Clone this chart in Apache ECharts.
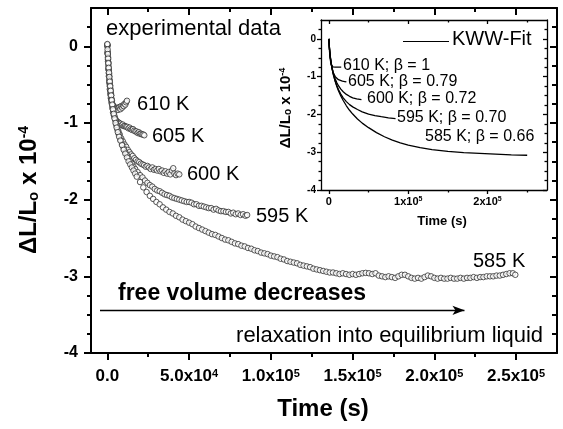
<!DOCTYPE html>
<html><head><meta charset="utf-8">
<script src="https://cdn.jsdelivr.net/npm/echarts@6/dist/echarts.min.js"></script>
<style>html,body{margin:0;padding:0;background:#fff}#c{width:563px;height:429px}</style>
</head><body><div id="c"></div>
<script>
// ---- measured data: [time (10^3 s), dL/Lo (10^-4)] ----
const d610 = [[0,0.02],[0.2,-0.1],[0.4,-0.2],[0.65,-0.3],[0.9,-0.39],[1.2,-0.48],[1.5,-0.56],[1.85,-0.63],[2.2,-0.68],[2.6,-0.72],[3.0,-0.75],[3.5,-0.78],[4.0,-0.79],[4.5,-0.8],[5.0,-0.82],[5.5,-0.8],[6.0,-0.81],[6.5,-0.83],[7.0,-0.8],[7.5,-0.79],[8.0,-0.82],[8.5,-0.78],[9.0,-0.8],[9.5,-0.77],[10.0,-0.78],[10.5,-0.75],[11.0,-0.76],[11.5,-0.73],[12.0,-0.71]];
const d605 = [[0,0],[0.2,-0.09],[0.4,-0.17],[0.65,-0.26],[0.9,-0.35],[1.2,-0.44],[1.5,-0.52],[1.85,-0.6],[2.2,-0.67],[2.6,-0.74],[3.0,-0.8],[3.5,-0.86],[4.0,-0.9],[4.6,-0.93],[5.2,-0.96],[5.9,-0.98],[6.6,-0.99],[7.3,-1.0],[8.0,-1.01],[8.7,-1.03],[9.4,-1.02],[10.1,-1.04],[10.8,-1.04],[11.5,-1.05],[12.2,-1.05],[12.9,-1.07],[13.6,-1.06],[14.3,-1.08],[15.0,-1.09],[15.7,-1.08],[16.4,-1.1],[17.1,-1.11],[17.8,-1.11],[18.5,-1.13],[19.2,-1.12],[19.9,-1.14],[20.6,-1.14],[21.3,-1.15],[22.0,-1.15],[22.6,-1.16]];
const d600 = [[0,0.01],[0.2,-0.08],[0.4,-0.15],[0.65,-0.23],[0.9,-0.31],[1.2,-0.39],[1.5,-0.47],[1.85,-0.55],[2.2,-0.62],[2.6,-0.69],[3.0,-0.75],[3.5,-0.82],[4.0,-0.88],[4.6,-0.94],[5.3,-1.0],[6.0,-1.06],[6.8,-1.11],[7.6,-1.15],[8.5,-1.2],[9.5,-1.24],[10.5,-1.28],[11.5,-1.31],[12.5,-1.35],[13.5,-1.38],[14.5,-1.41],[15.5,-1.43],[16.5,-1.46],[17.5,-1.48],[18.5,-1.5],[19.5,-1.51],[20.5,-1.53],[21.5,-1.54],[22.5,-1.55],[23.5,-1.57],[24.5,-1.56],[25.5,-1.58],[26.5,-1.6],[27.5,-1.58],[28.5,-1.61],[29.5,-1.6],[30.5,-1.62],[31.5,-1.6],[32.5,-1.63],[33.5,-1.62],[34.5,-1.65],[35.5,-1.63],[36.5,-1.66],[37.5,-1.64],[38.5,-1.67],[39.5,-1.62],[40.3,-1.59],[41.0,-1.66],[42.0,-1.68],[43.0,-1.66],[44.0,-1.67]];
const d595 = [[0,0.02],[0.2,-0.07],[0.4,-0.14],[0.6,-0.21],[0.85,-0.29],[1.1,-0.36],[1.4,-0.44],[1.7,-0.51],[2.05,-0.58],[2.4,-0.64],[2.8,-0.71],[3.2,-0.77],[3.7,-0.84],[4.2,-0.9],[4.8,-0.96],[5.5,-1.03],[6.2,-1.09],[7.0,-1.15],[8.0,-1.22],[9.0,-1.28],[10.0,-1.33],[11.0,-1.38],[12.0,-1.42],[13.0,-1.46],[14.0,-1.5],[15.0,-1.53],[16.0,-1.57],[17.0,-1.6],[18.5,-1.64],[20.0,-1.68],[21.5,-1.71],[23.0,-1.75],[24.5,-1.78],[26.0,-1.81],[27.5,-1.83],[29.0,-1.86],[30.5,-1.88],[32.0,-1.89],[33.5,-1.91],[35.0,-1.93],[36.5,-1.94],[38.0,-1.95],[39.5,-1.97],[41.0,-1.98],[42.5,-1.99],[44.0,-2.0],[45.5,-2.01],[47.0,-2.02],[48.5,-2.03],[50.0,-2.03],[51.5,-2.04],[53.0,-2.06],[54.5,-2.06],[56.0,-2.08],[57.5,-2.08],[59.0,-2.09],[60.5,-2.1],[62.0,-2.11],[63.5,-2.11],[65.0,-2.13],[66.5,-2.12],[68.0,-2.14],[69.5,-2.15],[71.0,-2.15],[72.5,-2.16],[74.0,-2.16],[75.5,-2.18],[77.0,-2.17],[78.5,-2.19],[80.0,-2.18],[81.5,-2.2],[83.0,-2.19],[84.5,-2.21],[85.5,-2.2]];
const d585 = [[0,0.03],[0.15,-0.04],[0.3,-0.1],[0.45,-0.16],[0.6,-0.22],[0.8,-0.28],[1.0,-0.34],[1.2,-0.4],[1.45,-0.46],[1.7,-0.52],[2.0,-0.58],[2.3,-0.64],[2.65,-0.7],[3.0,-0.76],[3.4,-0.82],[3.9,-0.88],[4.4,-0.94],[5.0,-1.0],[5.7,-1.06],[6.4,-1.12],[7.2,-1.18],[8.0,-1.23],[9.0,-1.29],[10,-1.35],[11,-1.4],[12,-1.45],[13,-1.5],[14,-1.54],[15,-1.58],[16,-1.62],[17,-1.66],[18,-1.7],[20,-1.77],[22,-1.84],[24,-1.9],[26,-1.95],[28,-1.99],[30,-2.03],[32,-2.06],[34,-2.1],[36,-2.13],[38,-2.16],[40,-2.18],[42,-2.21],[44,-2.23],[46,-2.26],[48,-2.28],[50,-2.3],[52,-2.32],[54,-2.35],[56,-2.37],[58,-2.39],[60,-2.41],[62,-2.43],[64,-2.45],[66,-2.46],[68,-2.48],[70,-2.5],[72,-2.52],[74,-2.53],[76,-2.55],[78,-2.57],[80,-2.58],[82,-2.6],[84,-2.61],[86,-2.63],[88,-2.64],[90,-2.66],[92,-2.67],[94,-2.69],[96,-2.7],[98,-2.71],[100,-2.73],[102,-2.74],[104,-2.75],[106,-2.77],[108,-2.78],[110,-2.8],[112,-2.81],[114,-2.82],[116,-2.83],[118,-2.85],[120,-2.86],[122,-2.87],[124,-2.88],[126,-2.9],[128,-2.91],[130,-2.92],[132,-2.93],[134,-2.94],[136,-2.95],[138,-2.95],[140,-2.96],[142,-2.97],[144,-2.96],[146,-2.97],[148,-2.98],[150,-2.97],[152,-2.98],[154,-2.97],[156,-2.96],[158,-2.955],[160,-2.96],[162,-2.97],[164,-2.96],[166,-2.99],[168,-3.0],[170,-3.01],[172,-3.0],[174,-3.01],[176,-3.02],[178,-3.0],[180,-2.98],[182,-2.98],[184,-3.0],[186,-3.02],[188,-3.03],[190,-3.02],[192,-3.03],[194,-3.01],[196,-2.99],[198,-3.0],[200,-3.02],[202,-3.03],[204,-3.02],[206,-3.03],[208,-3.03],[210,-3.02],[212,-3.03],[214,-3.03],[216,-3.02],[218,-3.03],[220,-3.02],[222,-3.02],[224,-3.01],[226,-3.02],[228,-3.01],[230,-3.01],[232,-3.0],[234,-3.0],[236,-3.0],[238,-2.99],[240,-2.99],[242,-2.98],[244,-2.97],[246,-2.96],[248,-2.96],[249.5,-2.98]];

// ---- KWW fit curves (inset) ----
const fit610 = [[0,0],[0.25,-0.13],[0.5,-0.24],[0.75,-0.33],[1,-0.4],[1.5,-0.51],[2,-0.59],[2.5,-0.64],[3,-0.68],[4,-0.72],[5,-0.74],[6,-0.745],[8,-0.75],[10,-0.75],[12,-0.75],[15.5,-0.75]];
const fit605 = [[0,0],[0.25,-0.12],[0.5,-0.2],[1,-0.34],[1.5,-0.45],[2,-0.54],[3,-0.68],[4,-0.78],[5,-0.86],[6,-0.92],[8,-1.0],[10,-1.05],[12,-1.08],[14,-1.1],[17,-1.12],[20,-1.13],[22,-1.14]];
const fit600 = [[0,0],[0.25,-0.12],[0.5,-0.2],[1,-0.33],[1.5,-0.43],[2,-0.52],[3,-0.66],[4,-0.77],[5,-0.86],[6,-0.94],[8,-1.06],[10,-1.16],[12,-1.24],[15,-1.33],[18,-1.4],[22,-1.47],[26,-1.52],[30,-1.56],[35,-1.59],[41,-1.61]];
const fit595 = [[0,0],[0.25,-0.12],[0.5,-0.2],[1,-0.33],[1.5,-0.43],[2,-0.52],[3,-0.67],[4,-0.79],[5,-0.89],[6,-0.98],[8,-1.12],[10,-1.24],[12,-1.34],[15,-1.46],[18,-1.56],[22,-1.66],[26,-1.74],[30,-1.8],[36,-1.87],[42,-1.93],[50,-1.99],[58,-2.03],[66,-2.06],[75,-2.09],[84,-2.11]];
const fit585 = [[0,0],[0.25,-0.12],[0.5,-0.2],[1,-0.33],[1.5,-0.43],[2,-0.52],[3,-0.67],[4,-0.79],[5,-0.89],[6,-0.98],[8,-1.13],[10,-1.26],[12,-1.37],[15,-1.51],[18,-1.63],[22,-1.77],[26,-1.89],[30,-1.99],[36,-2.12],[42,-2.23],[50,-2.35],[60,-2.48],[70,-2.59],[80,-2.68],[90,-2.75],[100,-2.81],[115,-2.88],[130,-2.93],[150,-2.98],[170,-3.01],[190,-3.03],[210,-3.05],[230,-3.07],[250,-3.08]];

// ---- ticks / labels ----
const mainXTicks = [0,50,100,150,200,250];
const mainXMinor = [25,75,125,175,225];
const mainXLabelBase = ['0.0','5.0x10','1.0x10','1.5x10','2.0x10','2.5x10'];
const mainXLabelExp = ['','4','5','5','5','5'];
const mainYTicks = [0,-1,-2,-3,-4];
const mainYMinor = [0.25,-0.25,-0.5,-0.75,-1.25,-1.5,-1.75,-2.25,-2.5,-2.75,-3.25,-3.5,-3.75];
const insetXTicks = [0,100,200];
const insetXMinor = [50,150,250];
const insetXLabelBase = ['0','1x10','2x10'];
const insetXLabelExp = ['','5','5'];
const mainLabels = ['610 K','605 K','600 K','595 K','585 K'];
const insetLabels = ['610 K; \u03b2 = 1','605 K; \u03b2 = 0.79','600 K; \u03b2 = 0.72','595 K; \u03b2 = 0.70','585 K; \u03b2 = 0.66'];
const legendLabel = 'KWW-Fit';

const F = 'Liberation Sans, Arial, Helvetica, sans-serif';
const X_MIN = -10, X_MAX = 275, Y_MIN = -4, Y_MAX = 0.5;

function ax(kind, grid, pos, ticks, len, inside, w, label, showLine) {
  return {
    type: 'value', gridIndex: grid, position: pos,
    min: kind === 'x' ? X_MIN : Y_MIN, max: kind === 'x' ? X_MAX : Y_MAX,
    axisLine: { show: showLine, onZero: false, lineStyle: { color: '#000', width: w } },
    axisTick: { show: true, customValues: ticks, length: len, inside: inside, lineStyle: { color: '#000', width: w } },
    axisLabel: label ? Object.assign({ customValues: ticks }, label) : { show: false },
    splitLine: { show: false }, minorTick: { show: false }, silent: true
  };
}
function xFmt(base, exp, ticks) {
  return function (v) {
    const i = ticks.indexOf(Math.round(v));
    if (i < 0) return '';
    return exp[i] ? '{m|' + base[i] + '}{s|' + exp[i] + '}' : '{m|' + base[i] + '}';
  };
}
const mainXLabel = { margin: 15, formatter: xFmt(mainXLabelBase, mainXLabelExp, mainXTicks),
  rich: { m: { fontSize: 17, fontWeight: 'bold', fontFamily: F, color: '#000' },
          s: { fontSize: 11, fontWeight: 'bold', fontFamily: F, color: '#000', verticalAlign: 'top' } } };
const mainYLabel = { margin: 13, fontSize: 16, fontWeight: 'bold', fontFamily: F, color: '#000' };
const insetXLabel = { margin: 6, formatter: xFmt(insetXLabelBase, insetXLabelExp, insetXTicks),
  rich: { m: { fontSize: 11, fontWeight: 'bold', fontFamily: F, color: '#000' },
          s: { fontSize: 7, fontWeight: 'bold', fontFamily: F, color: '#000', verticalAlign: 'top' } } };
const insetYLabel = { margin: 5, fontSize: 10, fontWeight: 'bold', fontFamily: F, color: '#000' };

const xAxes = [
  ax('x', 0, 'bottom', mainXTicks, 7, false, 2, mainXLabel, true),
  ax('x', 0, 'bottom', mainXMinor, 4, false, 2, null, false),
  ax('x', 0, 'top', mainXTicks, 7, true, 2, null, true),
  ax('x', 0, 'top', mainXMinor, 4, true, 2, null, false),
  ax('x', 1, 'bottom', insetXTicks, 4, false, 1.3, insetXLabel, true),
  ax('x', 1, 'bottom', insetXMinor, 2.5, false, 1.3, null, false),
  ax('x', 1, 'top', insetXTicks, 4, true, 1.3, null, true),
  ax('x', 1, 'top', insetXMinor, 2.5, true, 1.3, null, false)
];
const yAxes = [
  ax('y', 0, 'left', mainYTicks, 7, false, 2, mainYLabel, true),
  ax('y', 0, 'left', mainYMinor, 4, false, 2, null, false),
  ax('y', 0, 'right', mainYTicks, 7, true, 2, null, true),
  ax('y', 0, 'right', mainYMinor, 5, true, 2, null, false),
  ax('y', 1, 'left', mainYTicks, 4, false, 1.3, insetYLabel, true),
  ax('y', 1, 'left', mainYMinor, 2.5, false, 1.3, null, false),
  ax('y', 1, 'right', mainYTicks, 4, true, 1.3, null, true),
  ax('y', 1, 'right', mainYMinor, 2.5, true, 1.3, null, false)
];

const dataSets = [d610, d605, d600, d595, d585];
const fitSets = [fit610, fit605, fit600, fit595, fit585];
const series = [];
dataSets.forEach(function (d, i) {
  const s = {
    type: 'scatter', name: mainLabels[i], xAxisIndex: 0, yAxisIndex: 0, data: d,
    symbol: 'circle', symbolSize: 5.5, silent: true, animation: false,
    itemStyle: { color: '#fff', borderColor: '#2e2e2e', borderWidth: 1 }
  };
  if (i === 4) {
    s.markLine = { silent: true, animation: false, symbol: ['none', 'arrow'], symbolSize: [7, 12],
      label: { show: false }, lineStyle: { color: '#000', width: 1.3, type: 'solid' },
      data: [[{ coord: [-4.5, -3.444] }, { coord: [218.4, -3.444] }]] };
  }
  series.push(s);
});
fitSets.forEach(function (d, i) {
  series.push({
    type: 'line', name: 'KWW fit ' + mainLabels[i], xAxisIndex: 4, yAxisIndex: 4, data: d,
    symbol: 'none', showSymbol: false, silent: true, animation: false,
    lineStyle: { color: '#000', width: 1.3 }
  });
});

function txt(x, y, t, size, opt) {
  return { type: 'text', x: x, y: y, silent: true,
    style: Object.assign({ text: t, fontSize: size, fontFamily: F, fill: '#000', align: 'left', verticalAlign: 'middle' }, opt || {}) };
}
const mainLabelPos = [[137, 104], [152, 136], [187, 174], [256, 216], [473, 261]];
const insetLabelPos = [[343, 66], [348, 82], [367, 99], [397, 118], [425, 137]];
const graphics = [];
graphics.push(txt(106, 29, 'experimental data', 22));
mainLabels.forEach(function (l, i) { graphics.push(txt(mainLabelPos[i][0], mainLabelPos[i][1], l, 20)); });
insetLabels.forEach(function (l, i) { graphics.push(txt(insetLabelPos[i][0], insetLabelPos[i][1], l, 16)); });
graphics.push(txt(118, 294, 'free volume decreases', 23, { fontWeight: 'bold' }));
graphics.push(txt(543, 336, 'relaxation into equilibrium liquid', 22, { align: 'right' }));
graphics.push(txt(323, 409, 'Time (s)', 24, { fontWeight: 'bold', align: 'center' }));
graphics.push(txt(442, 221, 'Time (s)', 13, { fontWeight: 'bold', align: 'center' }));
// legend of the inset
graphics.push({ type: 'line', silent: true, shape: { x1: 403, y1: 41.5, x2: 449, y2: 41.5 }, style: { stroke: '#000', lineWidth: 1.2 } });
graphics.push(txt(452, 39, legendLabel, 20));
function yTitle(x, y, big, sub, sup) {
  return { type: 'text', x: x, y: y, rotation: Math.PI / 2, silent: true,
    style: { text: '{a|\u0394L/L}{b|o}{a| x 10}{c|-4}', align: 'center', verticalAlign: 'middle', fill: '#000',
      rich: { a: { fontSize: big, fontWeight: 'bold', fontFamily: F, fill: '#000' },
              b: { fontSize: sub, fontWeight: 'bold', fontFamily: F, fill: '#000', verticalAlign: 'bottom' },
              c: { fontSize: sup, fontWeight: 'bold', fontFamily: F, fill: '#000', verticalAlign: 'top' } } } };
}
graphics.push(yTitle(29, 190, 24, 15, 14));
graphics.push(yTitle(286, 108, 15, 10, 9));

const chart = echarts.init(document.getElementById('c'), null, { renderer: 'canvas' });
chart.setOption({
  animation: false,
  backgroundColor: '#fff',
  grid: [
    { left: 91, top: 8, width: 466, height: 345, show: false },
    { left: 321, top: 20, width: 226, height: 170, show: true, backgroundColor: '#fff', borderWidth: 0 }
  ],
  xAxis: xAxes,
  yAxis: yAxes,
  series: series,
  graphic: graphics
});
</script></body></html>
